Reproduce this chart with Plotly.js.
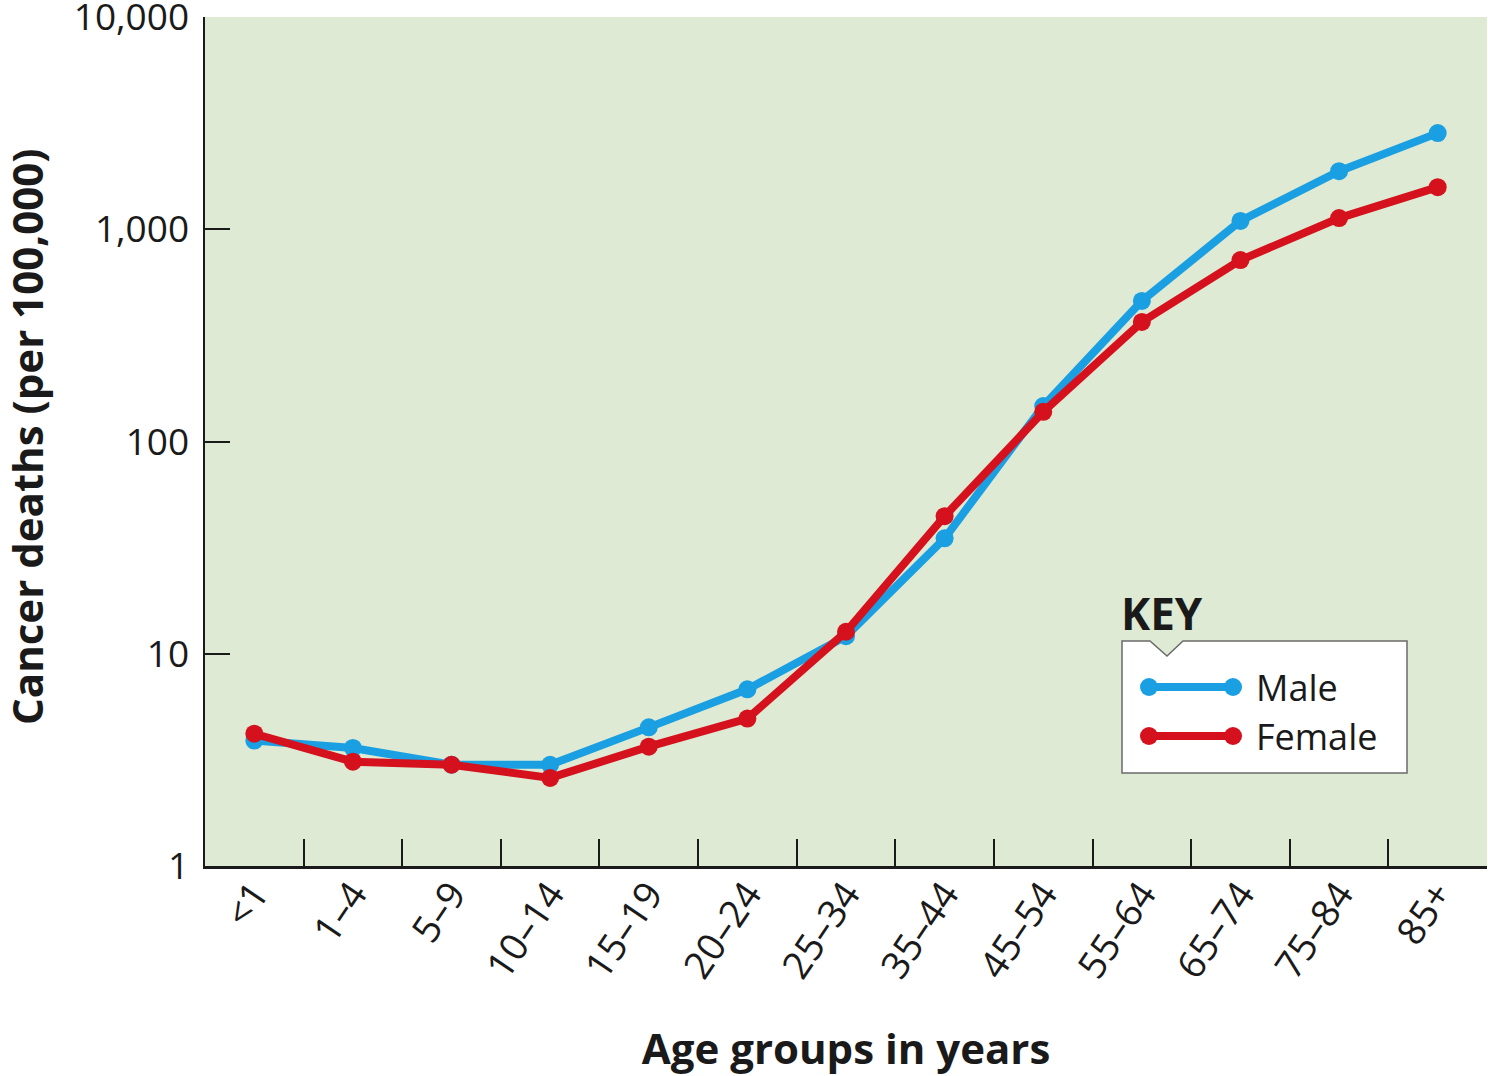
<!DOCTYPE html>
<html>
<head>
<meta charset="utf-8">
<script src="https://cdn.plot.ly/plotly-3.0.1.min.js"></script>
<style>
  html, body { margin: 0; padding: 0; background: #ffffff; }
  #chart { width: 1488px; height: 1076px; }
</style>
</head>
<body>
<div id="chart"></div>
<script>
const ageGroups = ['<1', '1–4', '5–9', '10–14', '15–19', '20–24', '25–34', '35–44', '45–54', '55–64', '65–74', '75–84', '85+'];
const maleDeaths = [3.9, 3.6, 3.0, 3.0, 4.5, 6.8, 12.1, 35, 147, 460, 1095, 1880, 2840];
const femaleDeaths = [4.2, 3.1, 3.0, 2.6, 3.65, 4.95, 12.7, 44.5, 138, 366, 716, 1130, 1580];
const yTickVals = [1, 10, 100, 1000, 10000];
const yTickText = ['1', '10', '100', '1,000', '10,000'];
const seriesNames = ['Male', 'Female'];
const seriesColors = ['#1a9fe2', '#d5111e'];
const xTitle = 'Age groups in years';
const yTitle = 'Cancer deaths (per 100,000)';

const W = 1488, H = 1076;
const L = 205, R = 1487, T = 17, B = 866;
const px = x => (x - L) / (R - L);
const py = y => (B - y) / (B - T);

const FONT = 'Open Sans, Noto Sans, sans-serif';

const traces = [
  {
    x: ageGroups, y: maleDeaths, name: seriesNames[0], type: 'scatter', mode: 'lines+markers',
    line: {color: seriesColors[0], width: 8}, marker: {color: seriesColors[0], size: 18},
    showlegend: false, hoverinfo: 'x+y'
  },
  {
    x: ageGroups, y: femaleDeaths, name: seriesNames[1], type: 'scatter', mode: 'lines+markers',
    line: {color: seriesColors[1], width: 8}, marker: {color: seriesColors[1], size: 18},
    showlegend: false, hoverinfo: 'x+y'
  }
];

// Custom key (legend) drawn with shapes and annotations
const boxL = 1122, boxR = 1407, boxT = 641, boxB = 773;
const nL = 1150, nM = 1167, nR = 1183, nD = 656;
const keyPath = 'M ' + px(boxL) + ' ' + py(boxT) +
  ' L ' + px(nL) + ' ' + py(boxT) +
  ' L ' + px(nM) + ' ' + py(nD) +
  ' L ' + px(nR) + ' ' + py(boxT) +
  ' L ' + px(boxR) + ' ' + py(boxT) +
  ' L ' + px(boxR) + ' ' + py(boxB) +
  ' L ' + px(boxL) + ' ' + py(boxB) + ' Z';

const shapes = [
  {type: 'path', xref: 'paper', yref: 'paper', path: keyPath,
   fillcolor: '#ffffff', line: {color: '#6b6b6b', width: 1.5}, layer: 'above'}
];
const annotations = [
  {xref: 'paper', yref: 'paper', x: px(1119), y: py(613), xanchor: 'left', yanchor: 'middle',
   text: '<b>KEY</b>', showarrow: false, font: {family: FONT, size: 44, color: '#1a1a1a'}},
  {xref: 'paper', yref: 'paper', x: px(27), y: py(437), xanchor: 'center', yanchor: 'middle',
   textangle: -90, text: '<b>' + yTitle + '</b>', showarrow: false,
   font: {family: FONT, size: 42, color: '#1a1a1a'}}
];
const rowsY = [687, 736];
seriesNames.forEach((nm, i) => {
  const yy = rowsY[i];
  shapes.push({type: 'line', xref: 'paper', yref: 'paper', x0: px(1149), x1: px(1233), y0: py(yy), y1: py(yy),
    line: {color: seriesColors[i], width: 8}, layer: 'above'});
  [1149, 1233].forEach(cx => {
    shapes.push({type: 'circle', xref: 'paper', yref: 'paper',
      x0: px(cx - 9), x1: px(cx + 9), y0: py(yy + 9), y1: py(yy - 9),
      fillcolor: seriesColors[i], line: {width: 0}, layer: 'above'});
  });
  annotations.push({xref: 'paper', yref: 'paper', x: px(1254), y: py(yy), xanchor: 'left', yanchor: 'middle',
    text: nm, showarrow: false, font: {family: FONT, size: 36, color: '#1a1a1a'}});
});

const layout = {
  width: W, height: H,
  margin: {l: L, r: W - R, t: T, b: H - B, pad: 0},
  paper_bgcolor: '#ffffff',
  plot_bgcolor: '#deead3',
  showlegend: false,
  font: {family: FONT, color: '#1a1a1a'},
  xaxis: {
    type: 'category',
    range: [-0.5, 12.5],
    tickson: 'boundaries',
    ticks: 'inside', ticklen: 27, tickwidth: 2, tickcolor: '#1a1a1a',
    showline: true, linecolor: '#1a1a1a', linewidth: 2.5,
    showgrid: false, zeroline: false,
    tickangle: -56,
    tickfont: {family: FONT, size: 38, color: '#1a1a1a'},
    ticklabelstandoff: -12,
    automargin: false,
    title: {text: '<b>' + xTitle + '</b>', font: {family: FONT, size: 42, color: '#1a1a1a'}, standoff: 59}
  },
  yaxis: {
    type: 'log',
    range: [0, 4.0005],
    tickvals: yTickVals, ticktext: yTickText,
    ticks: 'inside', ticklen: 25, tickwidth: 2, tickcolor: '#1a1a1a',
    showline: true, linecolor: '#1a1a1a', linewidth: 2.5,
    showgrid: false, zeroline: false,
    tickfont: {family: FONT, size: 37, color: '#1a1a1a'},
    ticklabelstandoff: 6,
    ticklabeloverflow: 'allow',
    automargin: false,
    title: {text: ''}
  },
  shapes: shapes,
  annotations: annotations
};

Plotly.newPlot('chart', traces, layout, {displayModeBar: false, staticPlot: true});
</script>
</body>
</html>
